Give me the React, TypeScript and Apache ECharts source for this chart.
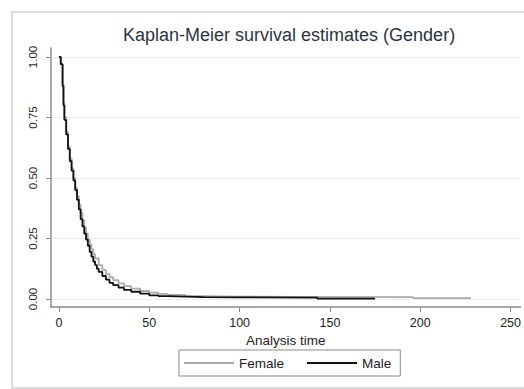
import React, { useEffect, useRef } from "react";
import * as echarts from "echarts";

const titleText = "Kaplan-Meier survival estimates (Gender)";
const xAxisTitle = "Analysis time";
const seriesNames = ["Female", "Male"];

const xTicks = [0, 50, 100, 150, 200, 250];
const yTicks = [0, 0.25, 0.5, 0.75, 1];

const femaleTime = [0, 1, 2, 2.5, 3, 4, 5, 6, 7, 8, 9, 10, 11, 12, 13, 14, 15, 16, 17, 18, 19, 20, 22, 24, 26, 28, 30, 33, 36, 40, 45, 50, 55, 60, 70, 80, 100, 130, 196, 228];
const femaleSurv = [1.0, 0.97, 0.89, 0.81, 0.75, 0.69, 0.63, 0.58, 0.54, 0.5, 0.46, 0.425, 0.39, 0.355, 0.325, 0.295, 0.27, 0.245, 0.225, 0.205, 0.185, 0.168, 0.14, 0.12, 0.103, 0.09, 0.078, 0.065, 0.053, 0.043, 0.033, 0.026, 0.021, 0.017, 0.012, 0.01, 0.009, 0.008, 0.004, 0.004];

const maleTime = [0, 1, 2, 2.5, 3, 4, 5, 6, 7, 8, 9, 10, 11, 12, 13, 14, 15, 16, 17, 18, 19, 20, 21, 22, 24, 26, 28, 30, 33, 36, 40, 45, 50, 55, 60, 70, 80, 100, 143, 175];
const maleSurv = [1.0, 0.97, 0.88, 0.8, 0.74, 0.68, 0.62, 0.57, 0.53, 0.49, 0.45, 0.41, 0.37, 0.33, 0.3, 0.27, 0.245, 0.22, 0.195, 0.175, 0.155, 0.14, 0.125, 0.112, 0.095, 0.08, 0.067, 0.057, 0.047, 0.038, 0.03, 0.022, 0.015, 0.012, 0.01, 0.008, 0.007, 0.006, 0.002, 0.002];

const pairs = (t: number[], s: number[]) => t.map((v, i) => [v, s[i]]);

export default function App() {
  const ref = useRef<HTMLDivElement>(null);
  useEffect(() => {
    document.body.style.margin = "0";
    const chart = echarts.init(ref.current!, null, { renderer: "svg" });
    const font = "Liberation Sans, Arial, sans-serif";
    chart.setOption({
      animation: false,
      backgroundColor: "#ffffff",
      textStyle: { fontFamily: font },
      title: {
        text: titleText,
        left: 118,
        top: 21,
        textStyle: { fontSize: 18, fontWeight: "normal", color: "#2b3441", fontFamily: font },
      },
      graphic: [
        {
          type: "rect",
          shape: { x: 12, y: 12, width: 530, height: 376 },
          style: { fill: "none", stroke: "#dcdcdc", lineWidth: 2 },
          silent: true,
        },
      ],
      legend: {
        data: seriesNames,
        left: 179,
        top: 350,
        orient: "horizontal",
        itemWidth: 50,
        itemHeight: 12,
        itemGap: 22,
        padding: [6, 9, 6, 4],
        borderColor: "#8a8a8a",
        borderWidth: 1,
        itemStyle: { opacity: 0, borderWidth: 0 },
        textStyle: { fontSize: 13.5, color: "#222", fontFamily: font },
      },
      grid: { left: 51, right: 0, top: 48, bottom: 82, containLabel: false },
      xAxis: {
        type: "value",
        min: -4.4,
        max: 255.5,
        name: xAxisTitle,
        nameLocation: "middle",
        nameGap: 23,
        nameTextStyle: { fontSize: 13.5, color: "#222", fontFamily: font },
        axisLine: { show: true, onZero: false, lineStyle: { color: "#8c8c8c", width: 1.5 } },
        axisTick: { show: true, length: 5, customValues: xTicks, lineStyle: { color: "#8c8c8c" } },
        axisLabel: { customValues: xTicks, fontSize: 12.5, color: "#222", margin: 9, fontFamily: font },
        splitLine: { show: false },
      },
      yAxis: {
        type: "value",
        min: -0.033,
        max: 1.037,
        axisLine: { show: true, onZero: false, lineStyle: { color: "#8c8c8c", width: 1.5 } },
        axisTick: { show: true, length: 5, customValues: yTicks, lineStyle: { color: "#8c8c8c" } },
        axisLabel: {
          customValues: yTicks,
          rotate: 90,
          fontSize: 11.5,
          color: "#222",
          margin: 12,
          fontFamily: font,
          formatter: (v: number) => v.toFixed(2),
        },
        splitLine: { show: true, lineStyle: { color: "#ececec", width: 1 } },
      },
      series: [
        {
          name: seriesNames[0],
          type: "line",
          step: "end",
          symbol: "none",
          showSymbol: false,
          data: pairs(femaleTime, femaleSurv),
          lineStyle: { color: "#a9a9a9", width: 1.8 },
          itemStyle: { color: "#a9a9a9" },
          z: 2,
        },
        {
          name: seriesNames[1],
          type: "line",
          step: "end",
          symbol: "none",
          showSymbol: false,
          data: pairs(maleTime, maleSurv),
          lineStyle: { color: "#111111", width: 1.8 },
          itemStyle: { color: "#111111" },
          z: 3,
        },
      ],
    });
    return () => chart.dispose();
  }, []);
  return <div ref={ref} style={{ position: "absolute", left: 0, top: 0, width: 524, height: 389 }} />;
}
